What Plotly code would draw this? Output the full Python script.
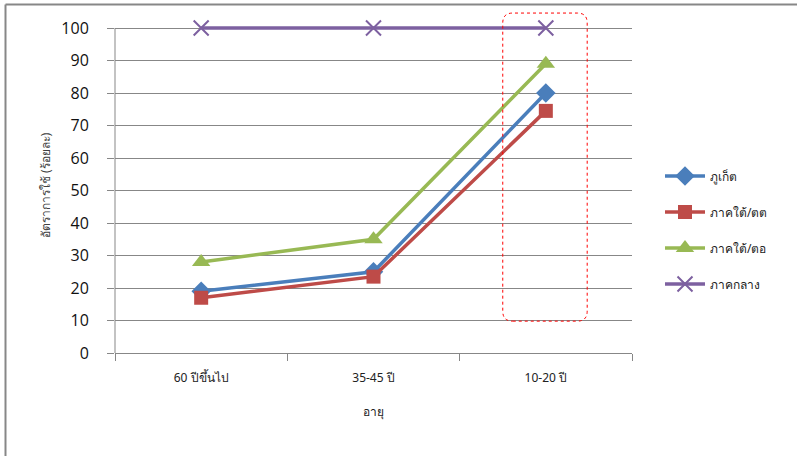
import plotly.graph_objects as go

# Age groups on the x axis
categories = ["60 ปีขึ้นไป", "35-45 ปี", "10-20 ปี"]

# Usage rate (%) per region
phuket = [19, 25, 80]
south_tt = [17, 23.5, 74.5]
south_to = [28, 35, 89]
central = [100, 100, 100]

series = [
    ("ภูเก็ต", phuket, "#4A7EBB", "diamond", 15),
    ("ภาคใต้/ตต", south_tt, "#BE4B48", "square", 14),
    ("ภาคใต้/ตอ", south_to, "#98B954", "triangle-up", 16),
    ("ภาคกลาง", central, "#7D60A0", "x-thin", 15),
]

W, H = 798, 456
L, R, T, B = 115, 166, 18, 103
pw, ph = W - L - R, H - T - B
YMAX = ph / 3.25          # a little headroom above 100 so the top line is not clipped

fig = go.Figure()
for i, (name, vals, color, sym, size) in enumerate(series):
    marker = dict(symbol=sym, size=size, color=color)
    if sym == "x-thin":
        marker["line"] = dict(color=color, width=2)
    fig.add_trace(go.Scatter(
        x=categories, y=vals, name=name, mode="lines+markers",
        line=dict(color=color, width=3.5), marker=marker,
        cliponaxis=False, legendgroup=f"g{i}",
    ))

def px_x(p):
    return (p - L) / pw

def px_y(p):
    return (H - B - p) / ph

def cat_x(c):
    # category index -> paper x
    return (c + 0.5) / 3

def val_y(v):
    # data value -> paper y
    return v / YMAX

# Rounded dashed box around the 10-20 age group
x0, x1, y0, y1 = cat_x(1.75), cat_x(2.24), val_y(9.8), val_y(104.6)
rx, ry = 10 / pw, 10 / ph
path = (f"M {x0+rx},{y0} L {x1-rx},{y0} Q {x1},{y0} {x1},{y0+ry} "
        f"L {x1},{y1-ry} Q {x1},{y1} {x1-rx},{y1} "
        f"L {x0+rx},{y1} Q {x0},{y1} {x0},{y1-ry} "
        f"L {x0},{y0+ry} Q {x0},{y0} {x0+rx},{y0} Z")

shapes = [
    dict(type="path", path=path, xref="paper", yref="paper",
         line=dict(color="#FF0000", width=1, dash="dot")),
    # y axis line from 0 to 100
    dict(type="line", xref="paper", yref="paper", x0=0, x1=0,
         y0=val_y(0), y1=val_y(100), line=dict(color="#878787", width=1)),
    # outer frame (top and left edges)
    dict(type="line", xref="paper", yref="paper",
         x0=px_x(5.5), x1=px_x(797), y0=px_y(4.5), y1=px_y(4.5),
         line=dict(color="#878787", width=2)),
    dict(type="line", xref="paper", yref="paper",
         x0=px_x(5.5), x1=px_x(5.5), y0=px_y(4.5), y1=px_y(456),
         line=dict(color="#878787", width=2)),
]

fig.update_layout(
    width=W, height=H,
    margin=dict(l=L, r=R, t=T, b=B),
    paper_bgcolor="white", plot_bgcolor="white",
    font=dict(family="Noto Sans, DejaVu Sans, sans-serif", color="#222222"),
    shapes=shapes,
    showlegend=True,
    legend=dict(x=px_x(660), y=px_y(230), xanchor="left", yanchor="middle",
                font=dict(size=12, color="#222222"), tracegroupgap=17,
                itemwidth=40, bgcolor="rgba(0,0,0,0)"),
    xaxis=dict(
        type="category", showgrid=False, showline=True, linecolor="#878787",
        linewidth=1, ticks="outside", ticklen=7, tickcolor="#878787",
        tickson="boundaries", tickfont=dict(size=12, color="#222222"),
        ticklabelstandoff=14,
        title=dict(text="อายุ", font=dict(size=12, color="#222222"), standoff=22),
        range=[-0.5, 2.5], zeroline=False,
    ),
    yaxis=dict(
        range=[0, YMAX], tickvals=list(range(0, 101, 10)), showgrid=True,
        gridcolor="#878787", gridwidth=1, showline=False,
        ticks="outside", ticklen=7, tickcolor="#878787",
        ticklabelstandoff=15,
        tickfont=dict(family="Open Sans, sans-serif", size=16, color="#111111"),
        zeroline=False,
    ),
    annotations=[dict(
        text="อัตราการใช้ (ร้อยละ)", textangle=-90, xref="paper", yref="paper",
        x=px_x(45), y=px_y(185), xanchor="center", yanchor="middle",
        showarrow=False, font=dict(size=12, color="#404040"),
    )],
)

fig.write_html("out.html")
